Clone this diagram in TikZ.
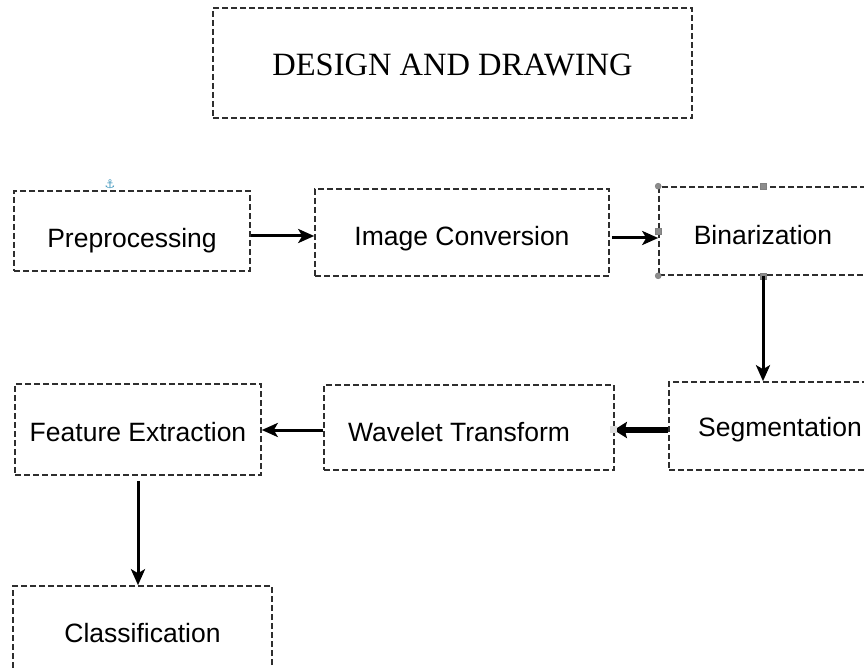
\documentclass[tikz,border=0pt]{standalone}
\usepackage{fontspec}
\setmainfont{Liberation Sans}
\newfontfamily\titlefont{Liberation Serif}
\newfontfamily\symfont{DejaVu Sans}
\usetikzlibrary{arrows.meta}
\definecolor{edgegray}{HTML}{2E2E2E}
\definecolor{handlegray}{HTML}{8C8C8C}
\definecolor{anchorblue}{HTML}{4A9CC0}
\tikzset{
  stagebox/.style={draw=edgegray, line width=1.6pt, dash pattern=on 6pt off 3pt,
    rectangle, inner sep=0pt, text depth=0pt,
    font=\fontsize{26.5}{30}\selectfont},
  flowarrow/.style={draw=black, line width=3pt,
    -{Stealth[length=16pt,width=14pt,inset=4pt]}},
  boldarrow/.style={draw=black, line width=5.5pt,
    -{Stealth[length=13pt,width=16pt,inset=2pt]}},
  cornerhandle/.style={circle, fill=handlegray, draw=gray, line width=0.5pt,
    inner sep=0pt, minimum size=6pt},
  sidehandle/.style={rectangle, fill=handlegray, draw=gray, line width=0.5pt,
    inner sep=0pt, minimum size=6pt},
}
\begin{document}
\begin{tikzpicture}[x=1pt, y=-1pt]
\useasboundingbox (0,0) rectangle (864,668);
\clip (0,0) rectangle (864,668);
\fill[white] (0,0) rectangle (864,668);

% title
\node[stagebox, minimum width=479pt, minimum height=110pt, text height=26pt,
  font=\titlefont\fontsize{32.5}{36}\selectfont] (title) at (452.5,63) {DESIGN AND DRAWING};

% processing stages
\node[stagebox, minimum width=236pt, minimum height=80pt, text height=33pt] (pre) at (132,231) {Preprocessing};
\node[stagebox, minimum width=294pt, minimum height=87pt, text height=27pt] (img) at (462,232.5) {Image Conversion};
\node[stagebox, minimum width=208pt, minimum height=88pt, text height=26pt] (bin) at (763,231) {Binarization};
\node[stagebox, minimum width=222pt, minimum height=88pt, text height=20pt] (seg) at (780,426) {Segmentation};
\node[stagebox, minimum width=290pt, minimum height=85pt, text height=28pt] (wav) at (469,427.5) {Wavelet Transform\hspace*{20pt}};
\node[stagebox, minimum width=246pt, minimum height=91pt, text height=24pt] (feat) at (138,429.5) {Feature Extraction};
\node[stagebox, minimum width=259pt, minimum height=90pt, text height=23pt] (cls) at (142.5,631) {Classification};

% selection handles on the binarization box
\foreach \a in {north west, south west, north east, south east}
  \node[cornerhandle] at (bin.\a) {};
\foreach \a in {north, south, west, east}
  \node[sidehandle] at (bin.\a) {};

% anchor marker above the first box
\node[text=anchorblue, inner sep=0pt, font=\symfont\fontsize{12}{13}\selectfont] (anchormark) at (110,184) {⚓};

% connectors
\draw[flowarrow] ([yshift=-5pt]pre.east) -- ([yshift=-3.5pt]img.west);
\draw[flowarrow] ([yshift=-5.5pt,xshift=2pt]img.east) -- ([yshift=-7pt]bin.west);
\draw[flowarrow] (bin.south) -- (bin.south |- seg.north);
\draw[boldarrow] ([yshift=-4pt]seg.west) -- ([yshift=-2.5pt,xshift=-1pt]wav.east);
\node[sidehandle, fill=gray!25, draw=gray!25] at ([yshift=-2pt,xshift=-2pt]wav.east) {};
\draw[flowarrow] ([yshift=-2.5pt]wav.west) -- ([yshift=-0.5pt]feat.east);
\draw[flowarrow] ([yshift=-5pt]feat.south) -- (feat.south |- cls.north);
\end{tikzpicture}
\end{document}
